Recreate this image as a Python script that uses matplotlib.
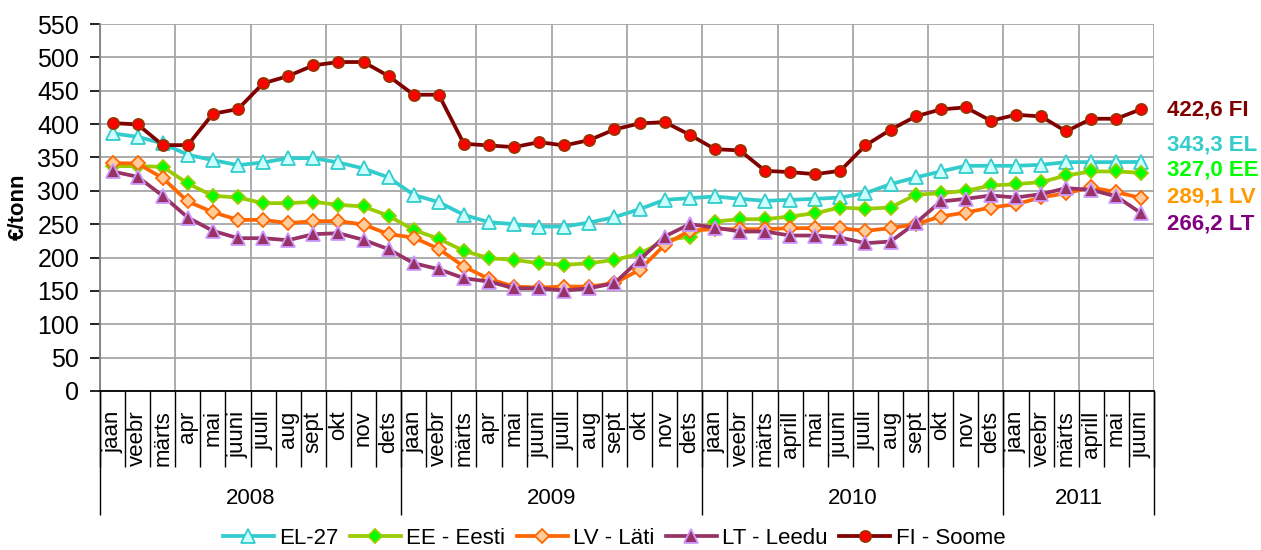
import matplotlib
matplotlib.use("Agg")
import matplotlib.pyplot as plt
import numpy as np

plt.rcParams['font.family'] = ['Liberation Sans', 'DejaVu Sans']

years = ["2008", "2009", "2010", "2011"]
months_per_year = [12, 12, 12, 6]
month_labels = (
    ["jaan", "veebr", "märts", "apr", "mai", "juuni", "juuli", "aug", "sept", "okt", "nov", "dets"] +
    ["jaan", "veebr", "märts", "apr", "mai", "juuni", "juuli", "aug", "sept", "okt", "nov", "dets"] +
    ["jaan", "veebr", "märts", "aprill", "mai", "juuni", "juuli", "aug", "sept", "okt", "nov", "dets"] +
    ["jaan", "veebr", "märts", "aprill", "mai", "juuni"]
)

el27 = [386, 381, 371, 354, 346, 338.5, 342.5, 349, 349, 342.5, 333.5, 320,
        294, 283, 264, 253, 250, 246.5, 246.5, 252.5, 260.5, 272.5, 286.5, 289,
        291.5, 288, 285, 286.5, 288, 290, 296.5, 310, 320, 329, 337.5, 337.5,
        337.5, 339, 343, 343, 343, 343.3]
ee = [337, 337, 336, 311, 292.5, 290, 281.5, 281.5, 283.5, 279, 276.5, 262.5,
      241.5, 228, 210, 199, 196.5, 191.5, 189, 191.5, 196.5, 205.5, 225.5, 231.5,
      254, 257.5, 257.5, 261.5, 266.5, 275, 273, 275, 294, 296.5, 300, 308,
      310, 313, 323, 329, 329, 327.0]
lv = [341.5, 341, 319, 284, 268, 256.5, 256.5, 251.5, 254.5, 254.5, 249.5, 235,
      230, 213, 186.5, 168, 156.5, 155, 156.5, 156.5, 161.5, 181.5, 219, 240.5,
      242.5, 242.5, 242.5, 244, 244, 244, 240, 244, 250, 261.5, 267.5, 275,
      280, 290, 296.5, 305, 298, 289.1]
lt = [329, 321, 292.5, 260, 240, 229, 229, 226, 235, 236.5, 226.5, 212.5,
      191.5, 182.5, 169, 164, 154, 154, 150.5, 154, 161.5, 196.5, 231.5, 250,
      245, 239, 239, 233, 233, 230, 221.5, 224, 251.5, 284, 288, 293,
      290, 295, 304, 301.5, 291.5, 266.2]
fi = [401.5, 399.5, 368.5, 368.5, 415.5, 422.5, 461, 472, 488, 493, 493, 472,
      444, 444, 370.5, 368, 365.5, 373, 368, 376, 392, 401, 403, 384,
      362.5, 360.5, 330, 328, 325, 330, 368, 391.5, 411.5, 422, 425, 405,
      414, 411.5, 389, 408, 408, 422.6]

series_names = ["EL-27", "EE - Eesti", "LV - Läti", "LT - Leedu", "FI - Soome"]
end_labels = ["343,3 EL", "327,0 EE", "289,1 LV", "266,2 LT", "422,6 FI"]

W, H = 1261, 550
fig = plt.figure(figsize=(W / 100, H / 100), dpi=100)
ax_l, ax_r, ax_t, ax_b = 100, 1154, 24, 391
ax = fig.add_axes([ax_l / W, 1 - ax_b / H, (ax_r - ax_l) / W, (ax_b - ax_t) / H])

n = len(month_labels)
x = np.arange(n)

styles = [
    dict(color="#33CCCC", marker="^", mfc="#CCFFFF", mec="#33CCCC", ms=9.5),
    dict(color="#99CC00", marker="D", mfc="#00FF00", mec="#99CC00", ms=7),
    dict(color="#FF6600", marker="D", mfc="#FFCC99", mec="#FF6600", ms=7),
    dict(color="#993366", marker="^", mfc="#993366", mec="#CC99FF", ms=9.5),
    dict(color="#800000", marker="o", mfc="#FF0000", mec="#993300", ms=8),
]
data = [el27, ee, lv, lt, fi]
lines = []
for vals, name, st in zip(data, series_names, styles):
    ln, = ax.plot(x, vals, lw=2.7, mew=1.3, label=name, zorder=3, clip_on=False, **st)
    lines.append(ln)

ax.set_xlim(-0.5, n - 0.5)
ax.set_ylim(0, 550)
ax.set_yticks(np.arange(0, 551, 50))
ax.tick_params(axis='y', direction='out', length=7, width=1.2, color='black',
               labelsize=18, pad=8)
ax.yaxis.grid(True, color="#A6A6A6", lw=1.3, zorder=0)

# quarterly vertical grid
for b in np.arange(-0.5, n, 3):
    ax.axvline(b, color="#A6A6A6", lw=1.3, zorder=0)

for s in ["top", "right"]:
    ax.spines[s].set_visible(False)
ax.spines["left"].set_color("#808080")
ax.spines["left"].set_linewidth(1.3)
ax.spines["bottom"].set_color("black")
ax.spines["bottom"].set_linewidth(1.3)

ax.set_xticks(x)
ax.set_xticklabels(month_labels, rotation=90, fontsize=16)
ax.tick_params(axis='x', length=0, pad=14)

axh = ax_b - ax_t
month_bottom = -(467 - ax_b) / axh
year_bottom = -(515 - ax_b) / axh
year_label_y = -(498 - ax_b) / axh
trans = ax.get_xaxis_transform()

bounds = np.arange(-0.5, n, 1)
ax.vlines(bounds, month_bottom, 0, transform=trans, colors="black", lw=1.0, clip_on=False)
starts = np.concatenate([[0], np.cumsum(months_per_year)]) - 0.5
ax.vlines(starts, year_bottom, 0, transform=trans, colors="black", lw=1.0, clip_on=False)
for i, yr in enumerate(years):
    c = (starts[i] + starts[i + 1]) / 2
    ax.text(c, year_label_y, yr, transform=trans, ha="center", va="center", fontsize=16)

fig.text(18 / W, 1 - 207 / H, "€/tonn", rotation=90, ha="center", va="center",
         fontsize=16, fontweight="bold")

label_colors = ["#33CCCC", "#00FF00", "#FF9900", "#800080", "#800000"]
label_y = [145, 170, 197, 224, 110]
for txt, col, yy in zip(end_labels, label_colors, label_y):
    fig.text(1167 / W, 1 - yy / H, txt, color=col, fontsize=16, fontweight="bold",
             ha="left", va="center")

fig.legend(handles=lines, loc="center", bbox_to_anchor=(614 / W, 12 / H), ncol=5,
           frameon=False, fontsize=16, handlelength=2.3, handletextpad=0.25,
           columnspacing=0.5, borderaxespad=0, borderpad=0)

fig.savefig("out.png", dpi=100)
